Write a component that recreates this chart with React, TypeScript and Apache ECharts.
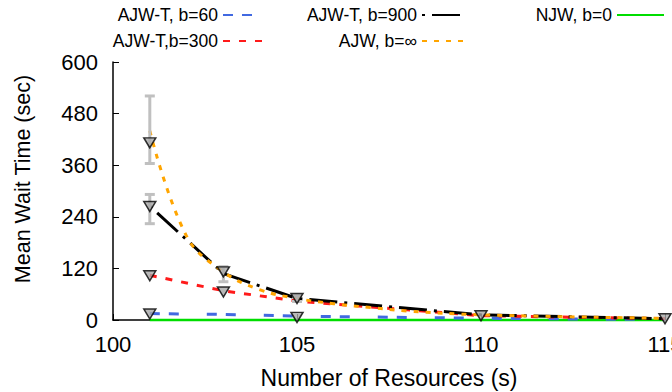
import React, { useEffect, useRef } from "react";
import * as echarts from "echarts";

const markX = [101, 103, 105, 110, 115];
const b60 = [15, 13, 9, 4, 1];
const b300 = [104, 68, 44, 10, 3];
const b900 = [265, 108, 50, 12, 3];
const njw = [0, 0, 0, 0, 0];
const ajwX = [101, 102, 103, 104, 105, 106, 107, 108, 110, 115];
const ajwY = [440, 195, 112, 70, 50, 38, 29, 21, 12, 4];
const markerPts: number[][] = [
  [101, 412], [101, 264], [101, 103], [101, 14],
  [103, 112], [103, 65],
  [105, 50], [105, 6],
  [110, 10],
  [115, 3],
];
const errBars: number[][] = [
  [101, 364, 521],
  [101, 224, 292],
  [103, 89, 124],
  [105, 43, 57],
];
const names = ["AJW-T, b=60", "AJW-T,b=300", "AJW-T, b=900", "AJW, b=∞", "NJW, b=0"];

const FONT = "Liberation Sans";

const zip = (xs: number[], ys: number[]) => xs.map((x, i) => [x, ys[i]]);

export default function App() {
  const ref = useRef<HTMLDivElement>(null);
  useEffect(() => {
    if (!ref.current) return;
    const chart = echarts.init(ref.current, undefined, { renderer: "svg" });
    const legendText = { fontSize: 17.5, color: "#000", fontFamily: FONT };
    const legendBase = {
      orient: "vertical",
      align: "right",
      top: 6,
      itemHeight: 14,
      itemGap: 8,
      padding: 0,
      textStyle: legendText,
      selectedMode: false,
      itemStyle: { opacity: 0, borderWidth: 0 },
    };
    chart.setOption({
      animation: false,
      backgroundColor: "#fff",
      grid: { left: 113, right: 7, top: 62, bottom: 72, containLabel: false, outerBoundsMode: "none" },
      legend: [
        { ...legendBase, right: 408, itemWidth: 40, data: [names[0], names[1]] },
        { ...legendBase, right: 205, itemWidth: 44, data: [names[2], names[3]] },
        { ...legendBase, right: 7, itemWidth: 47, data: [names[4]] },
      ],
      xAxis: {
        type: "value",
        min: 100,
        max: 115,
        interval: 5,
        name: "Number of Resources (s)",
        nameLocation: "middle",
        nameGap: 46,
        nameTextStyle: { fontSize: 23, color: "#000", fontFamily: FONT },
        axisLine: { show: true, onZero: false, lineStyle: { color: "#000", width: 1.5 } },
        axisTick: { show: true, inside: true, length: 6, lineStyle: { color: "#000" } },
        axisLabel: { fontSize: 22, color: "#000", fontFamily: FONT, margin: 13 },
        splitLine: { show: false },
      },
      yAxis: {
        type: "value",
        min: 0,
        max: 600,
        interval: 120,
        name: "Mean Wait Time (sec)",
        nameLocation: "middle",
        nameGap: 79,
        nameTextStyle: { fontSize: 21.5, color: "#000", fontFamily: FONT, padding: [0, 0, 0, 24] },
        axisLine: { show: true, lineStyle: { color: "#000", width: 1.5 } },
        axisTick: { show: true, inside: true, length: 6, lineStyle: { color: "#000" } },
        axisLabel: { fontSize: 22, color: "#000", fontFamily: FONT, margin: 15 },
        splitLine: { show: false },
      },
      series: [
        {
          name: names[4],
          type: "line",
          data: zip(markX, njw),
          symbol: "none",
          clip: false,
          lineStyle: { color: "#00dd00", width: 2.5, type: "solid" },
          itemStyle: { color: "#00dd00" },
          z: 2,
        },
        {
          name: names[0],
          type: "line",
          data: zip(markX, b60),
          symbol: "none",
          lineStyle: { color: "#4169e1", width: 3, type: [10, 9, 10, 28] },
          itemStyle: { color: "#4169e1" },
          z: 3,
        },
        {
          name: names[1],
          type: "line",
          data: zip(markX, b300),
          symbol: "none",
          lineStyle: { color: "#ff1a1a", width: 3, type: [7, 9] },
          itemStyle: { color: "#ff1a1a" },
          z: 3,
        },
        {
          name: names[2],
          type: "line",
          data: zip(markX, b900),
          symbol: "none",
          lineStyle: { color: "#000", width: 3, type: [3, 7, 28, 7] },
          itemStyle: { color: "#000" },
          z: 4,
        },
        {
          name: names[3],
          type: "line",
          data: zip(ajwX, ajwY),
          symbol: "none",
          smooth: 0.4,
          lineStyle: { color: "#ffa500", width: 3, type: [5, 7] },
          itemStyle: { color: "#ffa500" },
          z: 5,
        },
        {
          name: "err",
          type: "custom",
          data: errBars,
          encode: { x: 0, y: [1, 2] },
          z: 6,
          renderItem: (_params: any, api: any) => {
            const x = api.value(0);
            const pLo = api.coord([x, api.value(1)]);
            const pHi = api.coord([x, api.value(2)]);
            const w = 5;
            const style = { stroke: "#c0c0c0", lineWidth: 3 };
            return {
              type: "group",
              children: [
                { type: "line", shape: { x1: pLo[0], y1: pLo[1], x2: pHi[0], y2: pHi[1] }, style },
                { type: "line", shape: { x1: pLo[0] - w, y1: pLo[1], x2: pLo[0] + w, y2: pLo[1] }, style },
                { type: "line", shape: { x1: pHi[0] - w, y1: pHi[1], x2: pHi[0] + w, y2: pHi[1] }, style },
              ],
            };
          },
        },
        {
          name: "markers",
          type: "scatter",
          data: markerPts,
          symbol: "triangle",
          symbolRotate: 180,
          symbolSize: [12, 10],
          clip: false,
          itemStyle: { color: "#a8a8a8", borderColor: "#000", borderWidth: 1.5 },
          z: 7,
        },
      ],
    });
    return () => chart.dispose();
  }, []);
  return (
    <div
      ref={ref}
      style={{ position: "fixed", left: 0, top: 0, width: 672, height: 392, background: "#fff" }}
    />
  );
}
